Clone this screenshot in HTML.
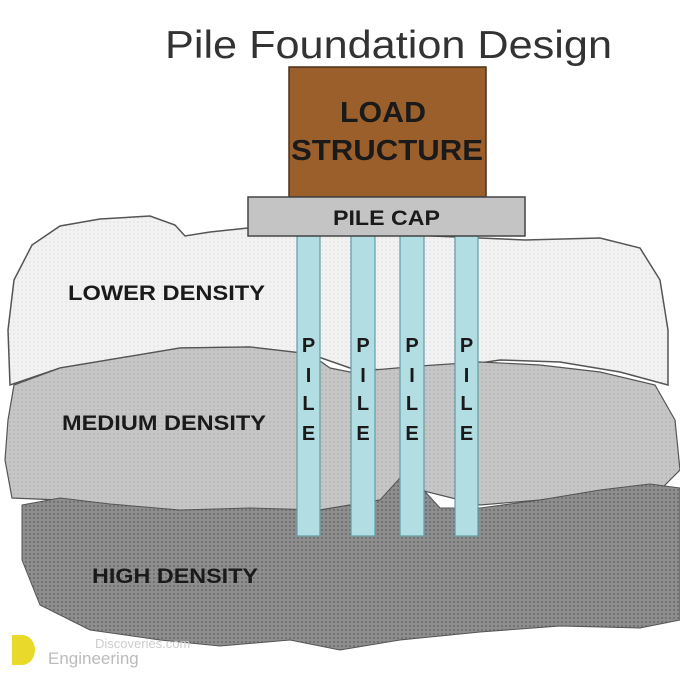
<!DOCTYPE html>
<html><head><meta charset="utf-8"><style>
html,body{margin:0;padding:0;background:#fff}
svg{display:block}
.t{font-family:"Liberation Sans",Arial,sans-serif;font-weight:bold;fill:#1a1a1a}
</style></head><body>
<svg width="680" height="680" viewBox="0 0 680 680" xmlns="http://www.w3.org/2000/svg">
<defs>
<pattern id="d1" width="4" height="4" patternUnits="userSpaceOnUse"><rect width="4" height="4" fill="#f2f2f2"/><circle cx="2" cy="2" r="0.6" fill="#d4d4d4"/></pattern>
<pattern id="d2" width="4" height="4" patternUnits="userSpaceOnUse"><rect width="4" height="4" fill="#c6c6c6"/><circle cx="2" cy="2" r="0.7" fill="#aaa"/></pattern>
<pattern id="d3" width="4" height="4" patternUnits="userSpaceOnUse"><rect width="4" height="4" fill="#8e8e8e"/><circle cx="2" cy="2" r="1" fill="#6a6a6a"/></pattern>
</defs>
<rect width="680" height="680" fill="#fff"/>
<text x="165" y="58" textLength="447" lengthAdjust="spacingAndGlyphs" font-family="Liberation Sans,Arial,sans-serif" font-size="39" fill="#333">Pile Foundation Design</text>
<path d="M10,385 L8,330 L14,280 L32,245 L60,226 L100,219 L150,216 L175,225 L185,236 L210,232 L248,228 L525,240 L600,238 L640,248 L660,280 L668,330 L668,385 L620,372 L560,362 L500,360 L420,372 L350,368 L310,354 L250,347 L180,348 L120,358 L60,368 Z" fill="url(#d1)" stroke="#555" stroke-width="1.5"/>
<path d="M12,498 L5,460 L8,420 L14,385 L60,368 L120,358 L180,348 L250,347 L310,354 L330,368 L350,372 L420,366 L480,362 L540,365 L600,372 L655,385 L675,420 L680,470 L660,490 L600,492 L540,500 L480,505 L420,490 L380,500 L320,510 L250,510 L180,512 L110,506 L60,500 Z" fill="url(#d2)" stroke="#555" stroke-width="1.2"/>
<path d="M22,505 L60,498 L110,504 L180,510 L250,508 L320,510 L380,500 L400,478 L420,486 L440,508 L480,508 L540,500 L600,490 L650,484 L680,488 L680,620 L640,628 L560,626 L480,632 L400,640 L340,650 L290,640 L220,646 L160,640 L90,630 L40,605 L22,560 Z" fill="url(#d3)" stroke="#555" stroke-width="1"/>
<g fill="#b2dde2" stroke="#5f9ea6" stroke-width="1.2">
<rect x="297" y="236" width="23" height="300"/>
<rect x="351" y="236" width="24" height="300"/>
<rect x="400" y="236" width="24" height="300"/>
<rect x="455" y="236" width="23" height="300"/>
</g>
<g class="t" font-size="20" text-anchor="middle">
<text x="308.5" y="352">P</text><text x="308.5" y="382">I</text><text x="308.5" y="410">L</text><text x="308.5" y="440">E</text>
<text x="363" y="352">P</text><text x="363" y="382">I</text><text x="363" y="410">L</text><text x="363" y="440">E</text>
<text x="412" y="352">P</text><text x="412" y="382">I</text><text x="412" y="410">L</text><text x="412" y="440">E</text>
<text x="466.5" y="352">P</text><text x="466.5" y="382">I</text><text x="466.5" y="410">L</text><text x="466.5" y="440">E</text>
</g>
<rect x="289" y="67" width="197" height="130" fill="#9b5f2b" stroke="#4a3018" stroke-width="1.5"/>
<text x="340" y="122" textLength="86" lengthAdjust="spacingAndGlyphs" class="t" font-size="29" fill="#2a1608">LOAD</text>
<text x="291" y="160" textLength="192" lengthAdjust="spacingAndGlyphs" class="t" font-size="29" fill="#2a1608">STRUCTURE</text>
<rect x="248" y="197" width="277" height="39" fill="#c4c4c4" stroke="#444" stroke-width="1.5"/>
<text x="333" y="225" textLength="107" lengthAdjust="spacingAndGlyphs" class="t" font-size="21">PILE CAP</text>
<g class="t" font-size="21">
<text x="68" y="300" textLength="197" lengthAdjust="spacingAndGlyphs">LOWER DENSITY</text>
<text x="62" y="430" textLength="204" lengthAdjust="spacingAndGlyphs">MEDIUM DENSITY</text>
<text x="92" y="583" textLength="166" lengthAdjust="spacingAndGlyphs">HIGH DENSITY</text>
</g>
<path d="M12,635 L22,635 A13,15 0 0 1 22,665 L12,665 Z" fill="#e8d92a"/>
<text x="95" y="648" font-family="Liberation Sans,sans-serif" font-size="13" fill="#ccc">Discoveries.com</text>
<text x="48" y="664" font-family="Liberation Sans,sans-serif" font-size="17" fill="#bbb">Engineering</text>
</svg>
</body></html>
